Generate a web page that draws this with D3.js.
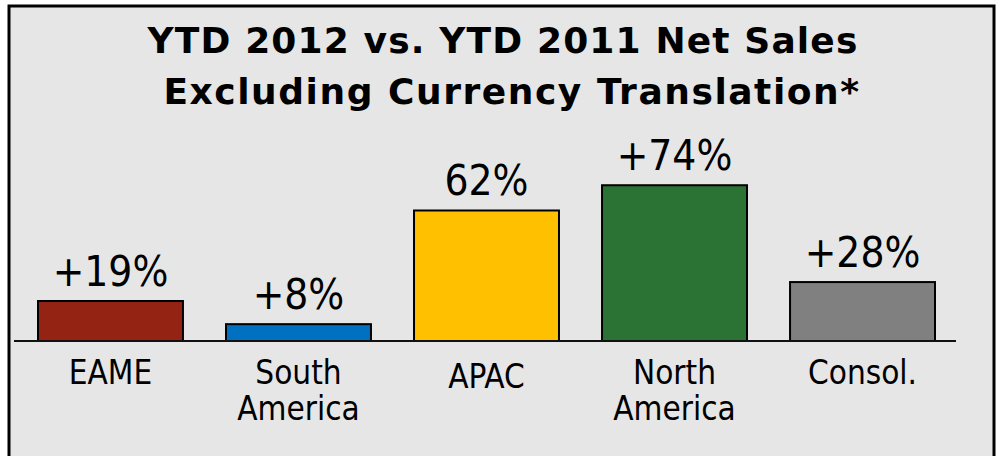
<!DOCTYPE html>
<html>
<head>
<meta charset="utf-8">
<script src="https://cdn.jsdelivr.net/npm/d3@7"></script>
<style>
  html, body { margin: 0; padding: 0; background: #fff; }
  svg { display: block; }
  text { font-family: "DejaVu Sans Condensed", "DejaVu Sans", sans-serif; fill: #000; }
</style>
</head>
<body>
<div id="chart"></div>
<script>
// du lieu doc tu hinh
const categories = ["EAME", "South\nAmerica", "APAC", "North\nAmerica", "Consol."];
const values = [19, 8, 62, 74, 28];
const valueLabels = ["+19%", "+8%", "62%", "+74%", "+28%"];
const barColors = ["#952314", "#0070c0", "#ffc000", "#2b7335", "#808080"];
const titleLines = ["YTD 2012 vs. YTD 2011 Net Sales", "Excluding Currency Translation*"];

const W = 999, H = 456;
const svg = d3.select("#chart").append("svg")
    .attr("width", W)
    .attr("height", H);

// khung nen xam
svg.append("rect")
    .attr("x", 9).attr("y", 6)
    .attr("width", 985).attr("height", 470)
    .attr("fill", "#e6e6e6")
    .attr("stroke", "#000")
    .attr("stroke-width", 3);

// tieu de (Tahoma Bold khong co -> DejaVu Sans Bold, gian chu mot chut)
const titleX = [503, 512];
const titleSpacing = [1.15, 1.55];
svg.selectAll(".title")
    .data(titleLines)
    .join("text")
    .attr("class", "title")
    .attr("x", (d, i) => titleX[i])
    .attr("y", (d, i) => 53 + i * 51)
    .attr("text-anchor", "middle")
    .style("font-family", "'DejaVu Sans', sans-serif")
    .style("font-size", "36px")
    .style("letter-spacing", (d, i) => titleSpacing[i] + "px")
    .style("font-weight", "bold")
    .text(d => d);

const baseY = 341;
const x = d3.scaleBand()
    .domain(categories)
    .range([38, 935])
    .paddingInner(0.229)
    .paddingOuter(0);

const y = d3.scaleLinear()
    .domain([0, 80])
    .range([baseY, baseY - 168.4]);

// cot
svg.selectAll(".bar")
    .data(values)
    .join("rect")
    .attr("class", "bar")
    .attr("x", (d, i) => x(categories[i]))
    .attr("y", d => y(d))
    .attr("width", x.bandwidth())
    .attr("height", d => y(0) - y(d))
    .attr("fill", (d, i) => barColors[i])
    .attr("stroke", "#000")
    .attr("stroke-width", 2);

// truc ngang
svg.append("line")
    .attr("x1", 14).attr("x2", 956)
    .attr("y1", y(0)).attr("y2", y(0))
    .attr("stroke", "#111")
    .attr("stroke-width", 2);

// nhan gia tri
svg.selectAll(".val")
    .data(values)
    .join("text")
    .attr("class", "val")
    .attr("x", (d, i) => x(categories[i]) + x.bandwidth() / 2)
    .attr("y", d => y(d) - 15)
    .attr("text-anchor", "middle")
    .style("font-size", "42px")
    .text((d, i) => valueLabels[i]);

// nhan danh muc (co the 2 dong)
svg.selectAll(".cat")
    .data(categories)
    .join("text")
    .attr("class", "cat")
    .attr("text-anchor", "middle")
    .style("font-size", "33px")
    .each(function(d) {
        const t = d3.select(this);
        const cx = x(d) + x.bandwidth() / 2;
        const lines = d.split("\n");
        const y0 = lines.length === 1 && d === "APAC" ? 388 : 384;
        lines.forEach((ln, k) => {
            t.append("tspan")
                .attr("x", cx)
                .attr("y", y0 + k * 36)
                .text(ln);
        });
    });
</script>
</body>
</html>
